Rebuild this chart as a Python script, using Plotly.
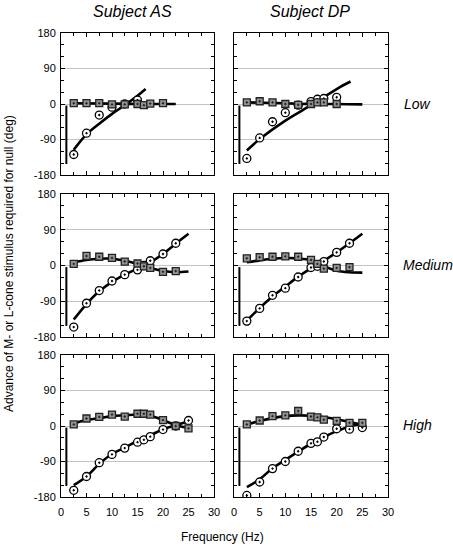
import plotly.graph_objects as go

# ---------------- data ----------------
FREQ = [2.5, 5, 7.5, 10, 12.5, 15, 16.25, 17.5, 20, 22.5, 25]
FIT_FREQ = [2.5, 5, 7.5, 10, 12.5, 15, 17.5, 20, 22.5, 25]

subjects = ["Subject AS", "Subject DP"]
levels = ["Low", "Medium", "High"]

# Low, AS
as_low_freq = [2.5, 5, 7.5, 10, 12.5, 15, 16.25, 17.5, 20]
as_low_sq = [2, 2, 2, -1, -1, 0, -3, 1, 2]
as_low_circ_freq = [2.5, 5, 7.5, 10, 12.5, 15]
as_low_circ = [-128, -74, -28, -8, 0, 10]
as_low_circfit_freq = [2.5, 5, 7.5, 10, 12.5, 15, 16.6]
as_low_circfit = [-116, -77, -50, -25, -3, 21, 38]
as_low_sqfit_freq = [2.5, 10, 15, 20, 22.5]
as_low_sqfit = [2, 1, 0, 0, 0]

# Low, DP
dp_low_freq = [2.5, 5, 7.5, 10, 12.5, 15, 16.25, 17.5, 20]
dp_low_sq = [4, 7, 4, 0, -2, 0, 4, 4, 0]
dp_low_circ_freq = [2.5, 5, 7.5, 10, 12.5, 15, 16.25, 17.5, 20]
dp_low_circ = [-138, -86, -45, -22, -3, 6, 12, 14, 17]
dp_low_circfit_freq = [2.5, 5, 10, 15, 20, 22.7]
dp_low_circfit = [-118, -89, -42, -3, 38, 57]
dp_low_sqfit_freq = [2.5, 10, 15, 20, 25]
dp_low_sqfit = [4, 2, 0, 0, -1]

# Medium, AS
as_med_sq = [4, 24, 22, 19, 10, 5, -2, -6, -16, -14]
as_med_circ = [-155, -95, -63, -39, -23, -11, 0, 12, 29, 56]
as_med_freq = [2.5, 5, 7.5, 10, 12.5, 15, 16.25, 17.5, 20, 22.5]
as_med_circfit = [-136, -97, -65, -41, -23, -8, 8, 29, 55, 80]
as_med_sqfit = [8, 14, 17, 17, 12, 4, -6, -14, -17, -15]

# Medium, DP
dp_med_freq = [2.5, 5, 7.5, 10, 12.5, 15, 16.25, 17.5, 20, 22.5]
dp_med_sq = [18, 21, 22, 23, 22, 14, 4, -8, -6, -4]
dp_med_circ = [-140, -108, -75, -57, -29, -5, -2, 10, 33, 56]
dp_med_circ_err = [9, 0, 0, 0, 0, 0, 0, 0, 0, 0]
dp_med_circfit = [-139, -107, -78, -53, -28, -7, 12, 33, 56, 80]
dp_med_sqfit = [8, 13, 17, 19, 18, 13, -2, -13, -17, -18]

# High, AS
as_high_sq = [4, 19, 23, 29, 24, 31, 31, 29, 15, 0, -6]
as_high_circ = [-163, -128, -93, -72, -56, -41, -35, -27, -9, 0, 14]
as_high_circfit = [-150, -128, -96, -71, -55, -38, -24, -8, 2, 12]
as_high_sqfit = [6, 15, 20, 25, 27, 29, 26, 15, 2, -5]

# High, DP
dp_high_sq = [4, 14, 25, 27, 38, 24, 22, 16, 13, 8, 8]
dp_high_circ = [-176, -142, -108, -90, -64, -44, -40, -28, -7, -8, -4]
dp_high_circfit = [-155, -135, -107, -86, -65, -45, -28, -13, -1, 6]
dp_high_sqfit = [3, 13, 20, 25, 27, 26, 22, 17, 10, 3]

# scale bar drawn in every panel
SCALE_BAR_FREQ = [1.05, 1.05]
SCALE_BAR_DEG = [-4, -152]

panels = [
    (0, 0, as_low_freq, as_low_sq, as_low_circ_freq, as_low_circ, None,
     as_low_circfit_freq, as_low_circfit, as_low_sqfit_freq, as_low_sqfit),
    (0, 1, dp_low_freq, dp_low_sq, dp_low_circ_freq, dp_low_circ, None,
     dp_low_circfit_freq, dp_low_circfit, dp_low_sqfit_freq, dp_low_sqfit),
    (1, 0, as_med_freq, as_med_sq, as_med_freq, as_med_circ, None,
     FIT_FREQ, as_med_circfit, FIT_FREQ, as_med_sqfit),
    (1, 1, dp_med_freq, dp_med_sq, dp_med_freq, dp_med_circ, dp_med_circ_err,
     FIT_FREQ, dp_med_circfit, FIT_FREQ, dp_med_sqfit),
    (2, 0, FREQ, as_high_sq, FREQ, as_high_circ, None,
     FIT_FREQ, as_high_circfit, FIT_FREQ, as_high_sqfit),
    (2, 1, FREQ, dp_high_sq, FREQ, dp_high_circ, None,
     FIT_FREQ, dp_high_circfit, FIT_FREQ, dp_high_sqfit),
]

# ---------------- layout geometry ----------------
W, H = 453, 547
ML, MR, MT, MB = 61, 65, 33, 50
PW = W - ML - MR
PH = H - MT - MB
col_px = [(61, 214), (234, 388)]
row_px = [(33, 175), (194, 337), (355, 497)]

def xdom(c):
    a, b = col_px[c]
    return [(a - ML) / PW, (b - ML) / PW]

def ydom(r):
    a, b = row_px[r]
    return [(H - MB - b) / PH, (H - MB - a) / PH]

FONT = "Liberation Sans, Arial, Helvetica, sans-serif"

fig = go.Figure()
layout = dict(
    width=W, height=H,
    margin=dict(l=ML, r=MR, t=MT, b=MB),
    paper_bgcolor="white", plot_bgcolor="white",
    showlegend=False,
    font=dict(family=FONT, size=11, color="black"),
)

for i, (r, c, sx, sy, cx, cy, cerr, fcx, fcy, fsx, fsy) in enumerate(panels):
    n = i + 1
    xa = "x" if n == 1 else f"x{n}"
    ya = "y" if n == 1 else f"y{n}"
    fig.add_trace(go.Scatter(x=SCALE_BAR_FREQ, y=SCALE_BAR_DEG, mode="lines",
                             line=dict(color="black", width=2), xaxis=xa, yaxis=ya))
    fig.add_trace(go.Scatter(x=fcx, y=fcy, mode="lines", line_shape="spline",
                             line=dict(color="black", width=2.6), xaxis=xa, yaxis=ya))
    fig.add_trace(go.Scatter(x=fsx, y=fsy, mode="lines", line_shape="spline",
                             line=dict(color="black", width=2.6), xaxis=xa, yaxis=ya))
    err = None
    if cerr is not None:
        err = dict(type="data", array=cerr, visible=True, color="black",
                   thickness=1.2, width=2)
    fig.add_trace(go.Scatter(x=cx, y=cy, mode="markers", error_y=err,
                             marker=dict(symbol="circle-dot", size=8, color="white",
                                         line=dict(color="black", width=1.3)),
                             xaxis=xa, yaxis=ya))
    fig.add_trace(go.Scatter(x=sx, y=sy, mode="markers",
                             marker=dict(symbol="square-dot", size=7, color="#929292",
                                         line=dict(color="#222222", width=1.3)),
                             xaxis=xa, yaxis=ya))

    xkey = "xaxis" if n == 1 else f"xaxis{n}"
    ykey = "yaxis" if n == 1 else f"yaxis{n}"
    layout[xkey] = dict(
        domain=xdom(c), anchor=ya, range=[0, 30],
        tickvals=[0, 5, 10, 15, 20, 25, 30],
        ticktext=["0", "5", "10", "15", "20", "25", "30"],
        showticklabels=(r == 2), ticklabelstandoff=5,
        ticks="inside", ticklen=4, tickwidth=1, tickcolor="black",
        minor=dict(ticks="inside", ticklen=3, dtick=2.5, tick0=0, tickcolor="black"),
        showline=True, linecolor="black", linewidth=1, mirror="ticks",
        showgrid=False, zeroline=False, fixedrange=True,
        tickfont=dict(size=11, family=FONT),
    )
    layout[ykey] = dict(
        domain=ydom(r), anchor=xa, range=[-180, 180],
        tickvals=[-180, -90, 0, 90, 180],
        ticktext=["-180", "-90", "0", "90", "180"],
        showticklabels=(c == 0), ticklabelstandoff=2,
        ticks="inside", ticklen=4, tickwidth=1, tickcolor="black",
        minor=dict(ticks="inside", ticklen=3, dtick=30, tick0=0, tickcolor="black",
                   showgrid=False),
        showline=True, linecolor="black", linewidth=1, mirror="ticks",
        showgrid=True, gridcolor="#c4c4c4", gridwidth=1, zeroline=False,
        fixedrange=True, tickfont=dict(size=11, family=FONT),
    )

fig.update_layout(**layout)

def ann(xpix, ypix, text, size, italic=False, xanchor="center", angle=0):
    fig.add_annotation(
        x=(xpix - ML) / PW, y=(H - MB - ypix) / PH, xref="paper", yref="paper",
        text=f"<i>{text}</i>" if italic else text,
        showarrow=False, xanchor=xanchor, yanchor="middle", textangle=angle,
        font=dict(family=FONT, size=size, color="black"),
    )

ann(132, 11, subjects[0], 16, italic=True)
ann(310, 11, subjects[1], 16, italic=True)
ann(402, 104, levels[0], 14, italic=True, xanchor="left")
ann(401, 265, levels[1], 14, italic=True, xanchor="left")
ann(401, 425, levels[2], 14, italic=True, xanchor="left")
ann(222, 537, "Frequency (Hz)", 12)
ann(9, 264, "Advance of M- or L-cone stimulus required for null (deg)", 12, angle=-90)

fig.write_html(
    "out.html",
    config={"displayModeBar": False, "staticPlot": True},
    post_script="document.body.style.margin='0';document.body.style.padding='0';"
                "document.body.style.overflow='hidden';",
)
